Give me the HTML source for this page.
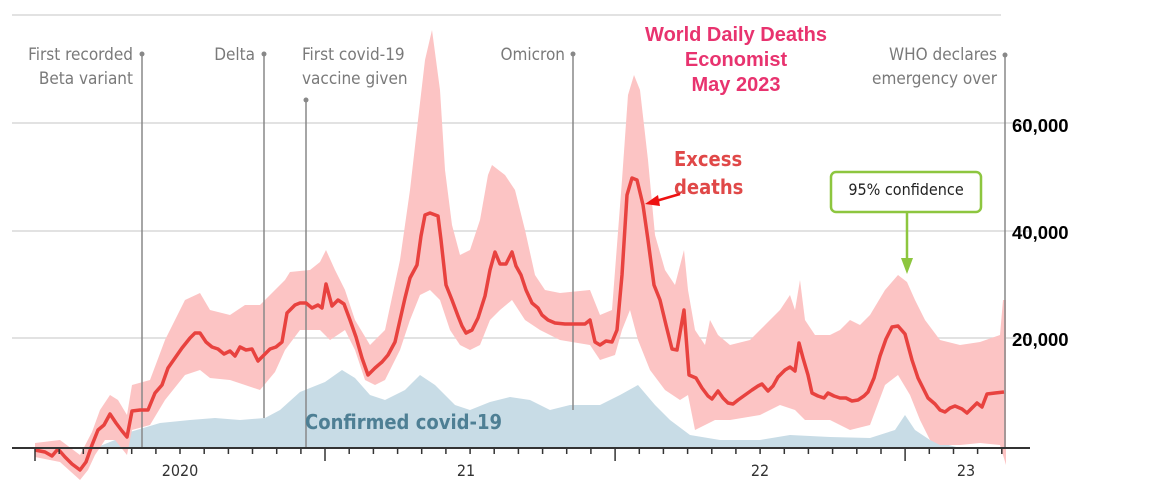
<!DOCTYPE html>
<html><head><meta charset="utf-8"><style>
html,body{margin:0;padding:0;background:#fff;}
svg{display:block;}
.ann{font-family:"DejaVu Sans Condensed","Liberation Sans",sans-serif;font-size:17px;fill:#7a7a7a;}
.yl{font-family:"Liberation Sans",sans-serif;font-size:18.5px;font-weight:bold;fill:#000;}
.xl{font-family:"DejaVu Sans Condensed","Liberation Sans",sans-serif;font-size:16px;fill:#333;}
.tt{font-family:"Liberation Sans",sans-serif;font-size:20px;font-weight:bold;fill:#e8336f;}
</style></head><body>
<svg width="1151" height="494" viewBox="0 0 1151 494">
<g stroke="#d8d8d8" stroke-width="1.5">
<line x1="12" y1="15" x2="1001" y2="15"/>
<line x1="12" y1="123" x2="1030" y2="123"/>
<line x1="12" y1="231" x2="1030" y2="231"/>
<line x1="12" y1="338" x2="1030" y2="338"/>
</g>
<polygon fill="#c8dce6" points="95,448 115,440 130,432 160,423 190,420 215,418 240,420 265,418 280,410 300,392 325,382 342,370 355,378 370,395 385,400 405,390 420,375 435,385 455,405 470,410 490,402 510,397 530,400 550,410 570,405 600,405 620,395 638,385 655,405 670,420 690,435 720,440 760,440 790,435 830,437 870,438 895,430 905,415 915,430 930,440 960,448"/>
<polygon fill="#fcc4c4" points="35,443 60,440 80,455 92,432 100,410 110,395 118,400 127,415 132,385 150,380 165,340 185,300 200,293 210,310 230,315 245,305 260,305 275,290 285,280 290,272 310,270 320,262 326,250 335,270 345,290 355,320 370,345 385,330 400,260 410,190 418,120 425,60 432,30 440,90 445,170 452,225 460,255 470,250 480,220 488,175 492,165 505,175 515,190 525,230 535,275 545,290 560,293 590,290 600,315 612,310 622,180 628,95 634,75 640,90 648,160 655,235 665,270 675,285 684,250 688,290 695,330 705,345 710,320 718,335 730,345 750,340 765,325 780,310 790,295 795,310 800,280 805,320 815,335 830,335 840,330 850,320 860,325 870,315 885,290 898,275 907,282 915,300 925,320 940,340 960,345 980,342 1000,335 1003,300 1006,300 1006,465 1000,445 980,443 960,445 940,445 930,440 920,420 910,395 898,375 885,385 870,425 850,430 830,420 815,420 805,420 795,410 780,405 760,415 730,420 715,420 705,425 695,430 688,395 680,400 665,390 650,370 638,340 630,310 622,330 615,355 600,360 590,345 560,340 540,330 525,320 512,300 500,310 490,320 480,345 470,350 460,345 450,330 440,300 430,290 420,295 410,320 400,350 385,380 375,385 365,380 355,350 345,330 330,340 320,330 300,330 285,350 275,372 260,390 245,385 230,380 210,378 200,370 185,375 165,400 150,425 132,430 127,455 115,440 105,440 95,455 88,470 80,480 60,462 35,457"/>
<g stroke="#888" stroke-width="1.5">
<line x1="142" y1="54" x2="142" y2="448"/>
<line x1="264" y1="54" x2="264" y2="418"/>
<line x1="306" y1="100" x2="306" y2="448"/>
<line x1="573" y1="54" x2="573" y2="410"/>
<line x1="1005" y1="55" x2="1005" y2="448"/>
</g>
<g fill="#888"><circle cx="142" cy="54" r="2.5"/><circle cx="264" cy="54" r="2.5"/><circle cx="306" cy="100" r="2.5"/><circle cx="573" cy="54" r="2.5"/><circle cx="1005" cy="55" r="2.5"/></g>
<polyline fill="none" stroke="#e8423f" stroke-width="3.5" stroke-linejoin="round" points="35,450 45,452 52,456 58,449 65,457 72,464 80,470 86,462 92,445 98,430 104,425 110,414 116,423 122,431 127,437 132,411 140,410 148,410 155,393 162,385 168,368 175,358 182,348 190,338 195,333 200,333 206,342 212,347 218,349 224,354 230,351 235,356 240,347 246,350 252,349 258,361 264,355 270,349 276,347 282,342 287,313 295,305 300,303 306,303 312,308 318,305 322,308 326,284 332,306 338,300 344,304 350,320 356,337 362,358 368,375 375,368 382,362 388,355 395,342 400,320 405,298 410,278 417,265 421,236 425,215 430,213 438,216 441,240 446,285 452,300 458,316 462,326 466,333 472,330 478,318 485,296 490,270 495,252 500,264 506,264 512,252 516,266 521,275 526,290 532,303 538,308 542,315 548,320 555,323 565,324 575,324 585,324 590,320 595,342 600,345 606,341 612,342 617,330 622,275 627,195 632,178 637,180 643,205 648,240 654,285 660,300 666,325 672,349 677,350 684,310 689,375 696,378 702,388 708,396 712,399 718,391 723,398 728,403 733,404 738,400 745,395 752,390 758,386 762,384 768,391 773,386 778,377 785,370 790,367 795,371 799,343 803,358 808,375 812,393 818,396 824,398 828,393 834,396 840,398 846,398 852,401 858,400 864,396 868,392 874,378 880,356 886,339 892,327 898,326 905,334 912,360 918,378 923,388 928,398 935,404 940,410 945,412 950,408 955,406 962,409 967,413 972,408 977,403 982,407 987,394 995,393 1004,392"/>
<line x1="12" y1="448" x2="1030" y2="448" stroke="#333" stroke-width="2"/>
<g stroke="#333" stroke-width="1.5" id="ticks"></g>
<text class="xl" x="180" y="476" text-anchor="middle">2020</text>
<text class="xl" x="466" y="476" text-anchor="middle">21</text>
<text class="xl" x="760" y="476" text-anchor="middle">22</text>
<text class="xl" x="966" y="476" text-anchor="middle">23</text>
<text class="yl" x="1012" y="132">60,000</text>
<text class="yl" x="1012" y="239">40,000</text>
<text class="yl" x="1012" y="346">20,000</text>
<text class="ann" x="133" y="60" text-anchor="end">First recorded</text>
<text class="ann" x="133" y="84" text-anchor="end">Beta variant</text>
<text class="ann" x="255" y="60" text-anchor="end">Delta</text>
<text class="ann" x="302" y="60">First covid-19</text>
<text class="ann" x="302" y="84">vaccine given</text>
<text class="ann" x="565" y="60" text-anchor="end">Omicron</text>
<text class="ann" x="997" y="60" text-anchor="end">WHO declares</text>
<text class="ann" x="997" y="84" text-anchor="end">emergency over</text>
<text class="tt" x="736" y="41" text-anchor="middle">World Daily Deaths</text>
<text class="tt" x="736" y="66" text-anchor="middle">Economist</text>
<text class="tt" x="736" y="91" text-anchor="middle">May 2023</text>
<text x="674" y="166" style="font-family:'DejaVu Sans Condensed','Liberation Sans',sans-serif;font-size:20px;font-weight:bold;fill:#e04848">Excess</text>
<text x="674" y="194" style="font-family:'DejaVu Sans Condensed','Liberation Sans',sans-serif;font-size:20px;font-weight:bold;fill:#e04848">deaths</text>
<line x1="680" y1="194" x2="656" y2="201" stroke="#ee1111" stroke-width="2.5"/>
<polygon points="645,204 658,195 660,206" fill="#ee1111"/>
<text x="305" y="429" style="font-family:'DejaVu Sans Condensed','Liberation Sans',sans-serif;font-size:20px;font-weight:bold;fill:#4e7f94">Confirmed covid-19</text>
<rect x="831" y="172" width="150" height="40" rx="5" fill="#fff" stroke="#8dc63f" stroke-width="2.5"/>
<text class="ann" x="906" y="195" text-anchor="middle" style="fill:#222;font-size:16px">95% confidence</text>
<line x1="907" y1="212" x2="907" y2="262" stroke="#8dc63f" stroke-width="2.5"/>
<polygon points="901,258 913,258 907,274" fill="#8dc63f"/>
</svg>
<script>
var g=document.getElementById('ticks'),s='';
for(var i=0;i<42;i++){var x=35+i*24.17;if(x>1022)break;var maj=(i%12==0);
s+='<line x1="'+x.toFixed(1)+'" y1="448" x2="'+x.toFixed(1)+'" y2="'+(maj?461:454)+'"/>';}
g.innerHTML=s;
</script>
</body></html>
